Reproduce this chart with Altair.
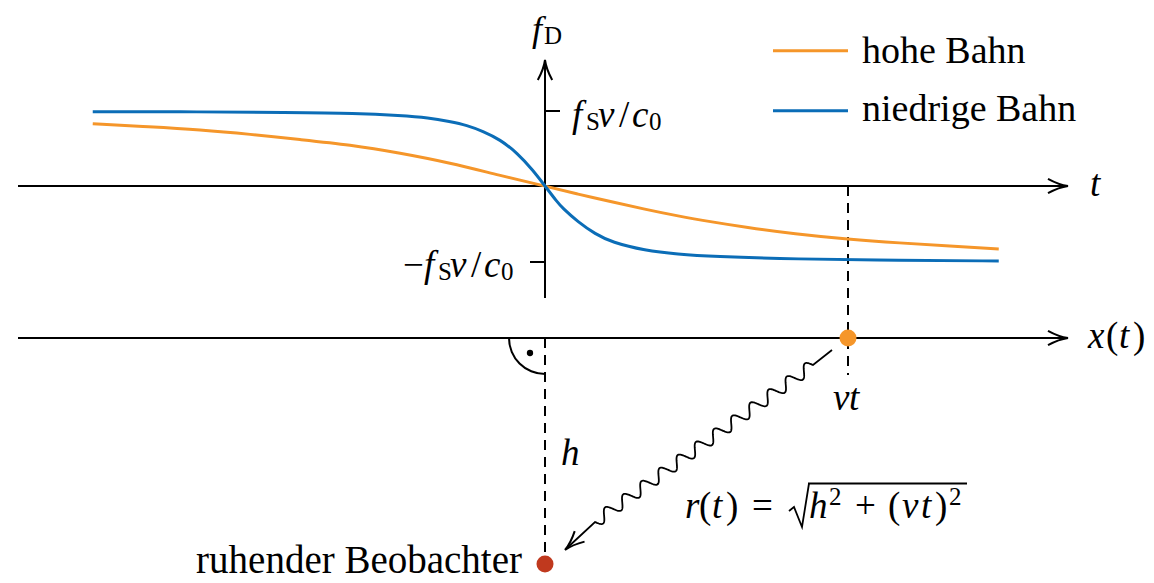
import math
import numpy as np
import pandas as pd
import altair as alt

# ---------------- data ----------------
# time t (arbitrary units, 0 = closest approach) and Doppler shift f_D in units of f_S v / c_0
t_hohe = [-6.03, -5.27, -4.60, -3.93, -3.27, -2.60, -1.93, -1.27, -0.60, 0.0,
          0.44, 0.89, 1.33, 1.77, 2.23, 2.67, 3.33, 4.04, 4.73, 5.40, 6.05]
fd_hohe = [0.83, 0.79, 0.75, 0.69, 0.62, 0.55, 0.44, 0.31, 0.14, 0.0,
           -0.11, -0.21, -0.31, -0.40, -0.48, -0.55, -0.64, -0.71, -0.76, -0.80, -0.84]

t_niedrig = [-6.03, -4.60, -3.45, -2.51, -1.93, -1.55, -1.27, -1.04, -0.83, -0.60, -0.37, -0.16, 0.0,
             0.16, 0.23, 0.44, 0.67, 0.89, 1.33, 1.77, 2.23, 3.33, 4.73, 6.05]
fd_niedrig = [0.99, 0.99, 0.98, 0.97, 0.94, 0.91, 0.86, 0.81, 0.73, 0.62, 0.44, 0.21, 0.0,
              -0.21, -0.29, -0.48, -0.64, -0.75, -0.86, -0.91, -0.94, -0.975, -0.99, -1.00]

series_names = ["hohe Bahn", "niedrige Bahn"]
series_colors = ["#F5962A", "#0B6DB7"]
source_color = "#F5962A"
observer_color = "#C0391E"

# ---------------- drawing frame ----------------
PX0, PY0, UNIT = 545.0, 186.0, 75.0


def ux(px):
    return (px - PX0) / UNIT


def uy(py):
    return (PY0 - py) / UNIT


XS = alt.Scale(domain=[ux(8), ux(1146)], nice=False, zero=False)
YS = alt.Scale(domain=[uy(583), uy(8)], nice=False, zero=False)
FONT = "Liberation Serif"


def X(f="x"):
    return alt.X(f + ":Q", scale=XS, axis=None)


def Y(f="y"):
    return alt.Y(f + ":Q", scale=YS, axis=None)


color_enc = alt.Color("series:N", scale=alt.Scale(domain=series_names, range=series_colors), legend=None)

# curves
curves = pd.concat([
    pd.DataFrame({"x": t_hohe, "y": fd_hohe, "series": series_names[0]}),
    pd.DataFrame({"x": t_niedrig, "y": fd_niedrig, "series": series_names[1]}),
])
curve_layer = alt.Chart(curves).mark_line(strokeWidth=3, interpolate="basis").encode(
    x=X(), y=Y(), color=color_enc)

# legend (manual, driven by the same colour scale)
leg = pd.DataFrame({"series": series_names,
                    "x": [ux(773)] * 2, "x2": [ux(848)] * 2,
                    "y": [uy(50.7), uy(110.7)],
                    "ty": [uy(63), uy(121)], "tx": [ux(862)] * 2})
leg_lines = alt.Chart(leg).mark_rule(strokeWidth=3).encode(x=X(), x2="x2:Q", y=Y(), color=color_enc)
leg_text = alt.Chart(leg).mark_text(font=FONT, fontSize=38, align="left", baseline="alphabetic",
                                    color="black").encode(x=X("tx"), y=Y("ty"), text="series:N")


# solid axis lines / ticks
def seg(x1, y1, x2, y2):
    return {"x": ux(x1), "y": uy(y1), "x2": ux(x2), "y2": uy(y2)}


solid = pd.DataFrame([
    seg(18, 186, 1064, 186),      # t axis
    seg(18, 338, 1064, 338),      # x(t) axis
    seg(545, 298, 545, 63),       # f_D axis
    seg(545, 111, 560, 111),      # tick +
    seg(530, 262, 545, 262),      # tick -
    seg(808, 483.5, 967, 483.5),  # sqrt bar
])
solid_layer = alt.Chart(solid).mark_rule(strokeWidth=2, color="black").encode(
    x=X(), y=Y(), x2="x2:Q", y2="y2:Q")

dashed = pd.DataFrame([
    seg(848, 186, 848, 375),
    seg(545, 338, 545, 556),
])
dashed_layer = alt.Chart(dashed).mark_rule(strokeWidth=2, color="black", strokeDash=[10, 7]).encode(
    x=X(), y=Y(), x2="x2:Q", y2="y2:Q")

# arrow heads (open, curved)
ARROW = "M-0.36,1 Q-0.06,0.45 0,0 Q0.06,0.45 0.36,1"
arrows = pd.DataFrame({"x": [ux(1068), ux(1068), ux(545), ux(565)],
                       "y": [uy(186), uy(338), uy(60), uy(550)],
                       "angle": [90, 90, 0, 227]})
arrow_layer = alt.Chart(arrows).mark_point(shape=ARROW, size=1600, filled=False, strokeWidth=2,
                                           color="black", opacity=1).encode(
    x=X(), y=Y(), angle=alt.Angle("angle:Q", scale=None))

# polylines: snake (wavy arrow) and radical sign
p0 = np.array([813.0, 365.0])
p1 = np.array([595.0, 522.0])
L = np.linalg.norm(p1 - p0)
d = (p1 - p0) / L
n = np.array([-d[1], d[0]])
s = np.linspace(0, 1, 500)
wave = p0[None, :] + s[:, None] * (p1 - p0)[None, :] + (6.0 * np.sin(2 * np.pi * 12 * s))[:, None] * n[None, :]
snake_px = np.vstack([[832, 350], wave, [567, 548]])
snake = pd.DataFrame({"x": ux(snake_px[:, 0]), "y": uy(snake_px[:, 1]), "grp": "snake",
                      "ord": np.arange(len(snake_px))})
rad_px = np.array([[789, 511], [794, 507], [802, 527], [809, 483.5]])
rad = pd.DataFrame({"x": ux(rad_px[:, 0]), "y": uy(rad_px[:, 1]), "grp": "rad",
                    "ord": np.arange(len(rad_px))})
poly = pd.concat([snake, rad])
poly_layer = alt.Chart(poly).mark_line(strokeWidth=1.8, color="black").encode(
    x=X(), y=Y(), detail="grp:N", order="ord:Q")

# dots
dots = pd.DataFrame({"x": [ux(848), ux(545)], "y": [uy(338), uy(564)],
                     "c": [source_color, observer_color]})
dot_layer = alt.Chart(dots).mark_point(filled=True, size=290, opacity=1, shape="circle").encode(
    x=X(), y=Y(), color=alt.Color("c:N", scale=None))

small_dot = alt.Chart(pd.DataFrame({"x": [ux(530)], "y": [uy(353)]})).mark_point(
    filled=True, size=40, opacity=1, color="black").encode(x=X(), y=Y())

# right angle arc
arc_layer = alt.Chart(pd.DataFrame({"x": [ux(545)], "y": [uy(338)]})).mark_arc(
    radius=37, radius2=35, theta=math.pi, theta2=1.5 * math.pi, color="black").encode(x=X(), y=Y())

# text pieces: (text, x_left, baseline_y, size, italic)
M, S = 37, 25
pieces = [
    ("f", 532, 41, 36, True), ("D", 544, 44, S, False),
    ("f", 572, 127, M, True), ("S", 586, 130, S, False), ("v", 598, 127, M, True),
    ("/", 619, 127, M, False), ("c", 632, 127, M, True), ("0", 649, 130, S, False),
    ("\u2212", 403, 277, M, False),
    ("f", 424, 277, M, True), ("S", 438, 280, S, False), ("v", 450, 277, M, True),
    ("/", 471, 277, M, False), ("c", 484, 277, M, True), ("0", 501, 280, S, False),
    ("t", 1090, 196, M, True),
    ("x", 1088, 348, M, True), ("(", 1106, 348, M, False), ("t", 1119, 348, M, True), (")", 1133, 348, M, False),
    ("v", 833, 410, M, True), ("t", 849, 410, M, True),
    ("h", 561, 465, M, True),
    ("r", 685, 518, M, True), ("(", 699, 518, M, False), ("t", 712, 518, M, True), (")", 726, 518, M, False),
    ("=", 752, 518, M, False),
    ("h", 809, 518, M, True), ("2", 829, 505, S, False),
    ("+", 855, 518, M, False),
    ("(", 888, 518, M, False), ("v", 902, 518, M, True), ("t", 921, 518, M, True), (")", 935, 518, M, False),
    ("2", 949, 505, S, False),
]
ptab = pd.DataFrame({"text": [p[0] for p in pieces], "x": [ux(p[1]) for p in pieces],
                     "y": [uy(p[2]) for p in pieces], "size": [p[3] for p in pieces],
                     "italic": [p[4] for p in pieces]})


def text_layer(df, style, align="left"):
    return alt.Chart(df).mark_text(font=FONT, fontStyle=style, align=align, baseline="alphabetic",
                                   color="black").encode(
        x=X(), y=Y(), text="text:N", size=alt.Size("size:Q", scale=None))


t_it = text_layer(ptab[ptab["italic"]], "italic")
t_rm = text_layer(ptab[~ptab["italic"]], "normal")
obs = pd.DataFrame({"text": ["ruhender Beobachter"], "x": [ux(522)], "y": [uy(573)], "size": [39]})
t_obs = text_layer(obs, "normal", align="right")

chart = alt.layer(
    solid_layer, dashed_layer, arrow_layer, arc_layer, small_dot,
    curve_layer, poly_layer, dot_layer,
    leg_lines, leg_text, t_it, t_rm, t_obs,
).properties(width=1138, height=575, padding=0, autosize="none").configure_view(stroke=None)

chart.save("out.html", embed_options={"renderer": "svg", "actions": False})
